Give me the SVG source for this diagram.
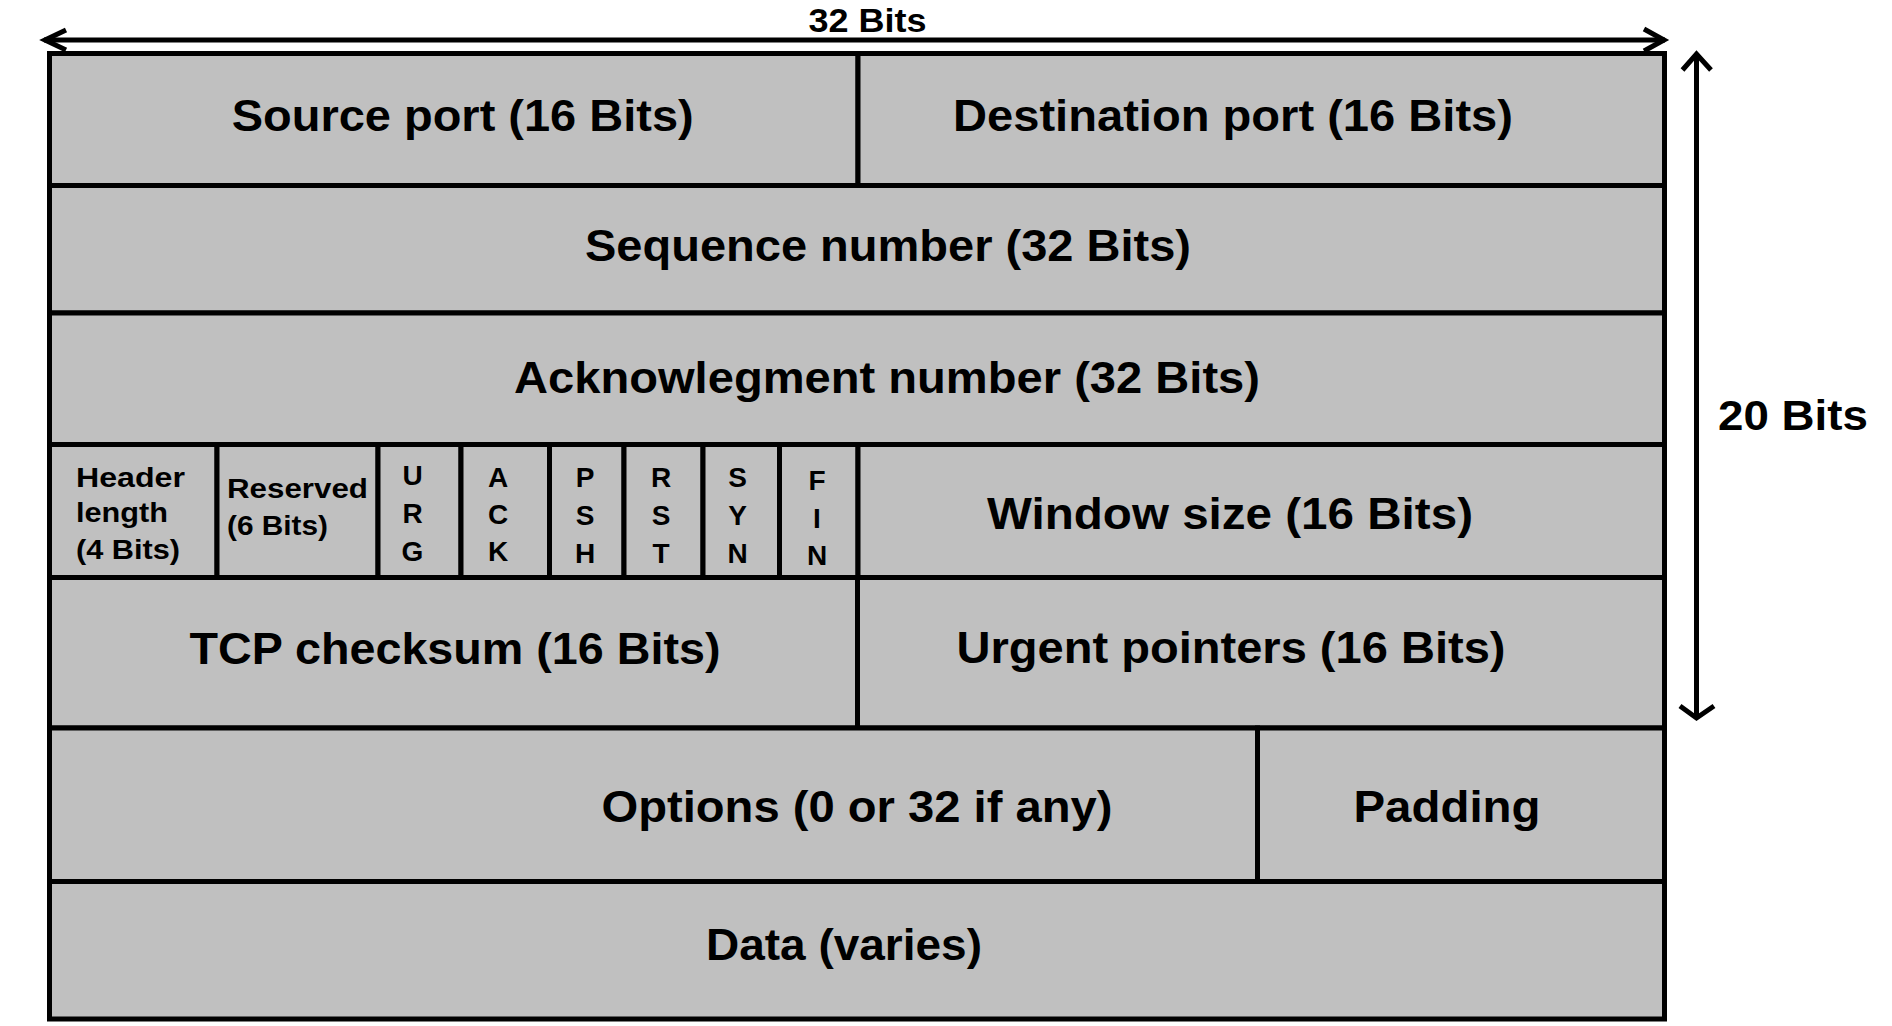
<svg xmlns="http://www.w3.org/2000/svg" width="1892" height="1026" viewBox="0 0 1892 1026">
<style>
.cell{fill:#c0c0c0;stroke:#000;stroke-width:5}
.t{font-family:"Liberation Sans",Arial,sans-serif;font-weight:bold;fill:#000}
.big{font-size:44px;text-anchor:middle}
.sm{font-size:27px}
.ch{font-size:28px;text-anchor:middle}
.arr{fill:none;stroke:#000;stroke-width:5;stroke-linecap:butt;stroke-linejoin:miter}
</style>
<rect x="0" y="0" width="1892" height="1026" fill="#fff"/>
<g id="src"><rect class="cell" x="49.5" y="53.5" width="808.5" height="132"/><text class="t big" x="462.7" y="131.2" textLength="462" lengthAdjust="spacingAndGlyphs">Source port (16 Bits)</text></g>
<g id="dst"><rect class="cell" x="858" y="53.5" width="806.5" height="132"/><text class="t big" x="1233" y="131.2" textLength="560" lengthAdjust="spacingAndGlyphs">Destination port (16 Bits)</text></g>
<g id="seq"><rect class="cell" x="49.5" y="185.5" width="1615" height="127.5"/><text class="t big" x="888" y="260.5" textLength="606" lengthAdjust="spacingAndGlyphs">Sequence number (32 Bits)</text></g>
<g id="ackn"><rect class="cell" x="49.5" y="313" width="1615" height="131.5"/><text class="t big" x="887" y="392.8" textLength="746" lengthAdjust="spacingAndGlyphs">Acknowlegment number (32 Bits)</text></g>
<g id="hlen"><rect class="cell" x="49.5" y="444.5" width="167.5" height="133"/>
<text class="t sm" x="76" y="486.7" textLength="109" lengthAdjust="spacingAndGlyphs">Header</text>
<text class="t sm" x="76" y="521.7" textLength="92" lengthAdjust="spacingAndGlyphs">length</text>
<text class="t sm" x="76" y="559" textLength="104" lengthAdjust="spacingAndGlyphs">(4 Bits)</text></g>
<g id="res"><rect class="cell" x="217" y="444.5" width="161" height="133"/>
<text class="t sm" x="227" y="497.5" textLength="141" lengthAdjust="spacingAndGlyphs">Reserved</text>
<text class="t sm" x="227" y="534.5" textLength="101" lengthAdjust="spacingAndGlyphs">(6 Bits)</text></g>
<g id="urg"><rect class="cell" x="378" y="444.5" width="83" height="133"/>
<text class="t ch" x="412.5" y="485">U</text><text class="t ch" x="412.5" y="523">R</text><text class="t ch" x="412.5" y="560.5">G</text></g>
<g id="ackf"><rect class="cell" x="461" y="444.5" width="88.5" height="133"/>
<text class="t ch" x="498" y="486.5">A</text><text class="t ch" x="498" y="523.5">C</text><text class="t ch" x="498" y="561">K</text></g>
<g id="psh"><rect class="cell" x="549.5" y="444.5" width="74.5" height="133"/>
<text class="t ch" x="585" y="487">P</text><text class="t ch" x="585" y="525">S</text><text class="t ch" x="585" y="563">H</text></g>
<g id="rst"><rect class="cell" x="624" y="444.5" width="79" height="133"/>
<text class="t ch" x="661" y="487">R</text><text class="t ch" x="661" y="525">S</text><text class="t ch" x="661" y="563">T</text></g>
<g id="syn"><rect class="cell" x="703" y="444.5" width="76.5" height="133"/>
<text class="t ch" x="737.5" y="487">S</text><text class="t ch" x="737.5" y="525">Y</text><text class="t ch" x="737.5" y="563">N</text></g>
<g id="fin"><rect class="cell" x="779.5" y="444.5" width="78.5" height="133"/>
<text class="t ch" x="817" y="490">F</text><text class="t ch" x="817" y="528">I</text><text class="t ch" x="817" y="565">N</text></g>
<g id="win"><rect class="cell" x="858" y="444.5" width="806.5" height="133"/><text class="t big" x="1230" y="528.5" textLength="486" lengthAdjust="spacingAndGlyphs">Window size (16 Bits)</text></g>
<g id="csum"><rect class="cell" x="49.5" y="577.5" width="808" height="150.5"/><text class="t big" x="455" y="663.5" textLength="531" lengthAdjust="spacingAndGlyphs">TCP checksum (16 Bits)</text></g>
<g id="urgp"><rect class="cell" x="857.5" y="577.5" width="807" height="150.5"/><text class="t big" x="1231" y="663" textLength="549" lengthAdjust="spacingAndGlyphs">Urgent pointers (16 Bits)</text></g>
<g id="opt"><rect class="cell" x="49.5" y="728" width="1208" height="153.5"/><text class="t big" x="857" y="822" textLength="511" lengthAdjust="spacingAndGlyphs">Options (0 or 32 if any)</text></g>
<g id="pad"><rect class="cell" x="1257.5" y="728" width="407" height="153.5"/><text class="t big" x="1447" y="822" textLength="187" lengthAdjust="spacingAndGlyphs">Padding</text></g>
<g id="data"><rect class="cell" x="49.5" y="881.5" width="1615" height="137.5"/><text class="t big" x="844" y="959.5" textLength="276" lengthAdjust="spacingAndGlyphs">Data (varies)</text></g>
<g id="connectors">
<line class="arr" x1="44" y1="40" x2="1665" y2="40"/>
<polyline class="arr" points="66,30 45,40 66,50"/>
<polyline class="arr" points="1644,29 1664,40 1644,51"/>
<line class="arr" x1="1696.5" y1="53" x2="1696.5" y2="719"/>
<polyline class="arr" points="1682.5,70 1696.5,54 1711,70"/>
<polyline class="arr" points="1680,706 1696.5,718 1714,706"/>
</g>
<g id="labels">
<text class="t" x="867.5" y="31.7" font-size="34" text-anchor="middle" textLength="118" lengthAdjust="spacingAndGlyphs">32 Bits</text>
<text class="t" x="1718" y="430" font-size="42" textLength="150" lengthAdjust="spacingAndGlyphs">20 Bits</text>
</g>
</svg>
